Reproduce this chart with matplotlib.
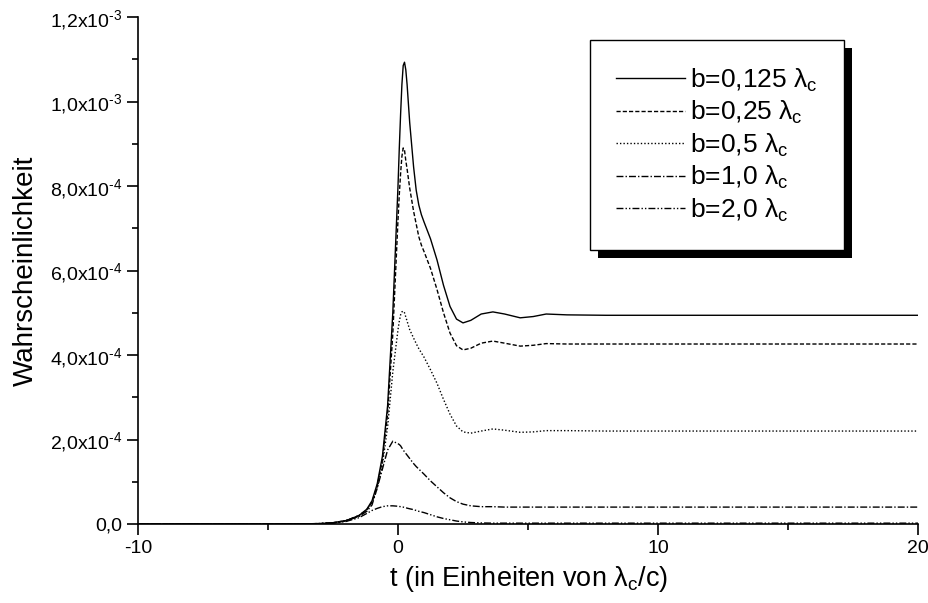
import matplotlib
matplotlib.use('Agg')
import matplotlib.pyplot as plt
from matplotlib.patches import Rectangle
from matplotlib.transforms import IdentityTransform

plt.rcParams['font.family'] = 'Liberation Sans'
plt.rcParams['mathtext.fontset'] = 'custom'
plt.rcParams['mathtext.rm'] = 'Liberation Sans'
plt.rcParams['mathtext.it'] = 'Liberation Sans'
plt.rcParams['mathtext.bf'] = 'Liberation Sans:bold'

# time axis (units of lambda_c / c)
t = [-10, -4, -3, -2.5, -2, -1.5, -1.2, -1, -0.8, -0.6, -0.4, -0.2, 0, 0.05, 0.1, 0.15,
     0.2, 0.25, 0.3, 0.35, 0.45, 0.6, 0.7, 0.8, 0.9, 1.0, 1.25, 1.5, 1.75, 2.0, 2.25, 2.5, 2.8,
     3.2, 3.65, 4.1, 4.7, 5.2, 5.7, 6.5, 8, 10, 15, 20]

# probabilities in units of 1e-4
p_0125 = [0, 0, 0.01, 0.03, 0.08, 0.2, 0.35, 0.55, 0.95, 1.6, 2.8, 5.0, 8.0, 8.9, 9.7, 10.4,
          10.85, 10.93, 10.75, 10.4, 9.5, 8.45, 7.9, 7.55, 7.32, 7.15, 6.75, 6.25, 5.65, 5.15,
          4.85, 4.76, 4.82, 4.97, 5.02, 4.97, 4.88, 4.91, 4.97, 4.95, 4.94, 4.94, 4.94, 4.94]
p_025 = [0, 0, 0.01, 0.03, 0.08, 0.2, 0.34, 0.52, 0.9, 1.5, 2.6, 4.5, 7.2, 7.8, 8.3, 8.7,
         8.9, 8.85, 8.6, 8.4, 7.95, 7.4, 7.1, 6.8, 6.6, 6.45, 6.05, 5.55, 5.0, 4.52,
         4.22, 4.12, 4.16, 4.28, 4.33, 4.28, 4.21, 4.23, 4.27, 4.26, 4.26, 4.26, 4.26, 4.26]
p_05 = [0, 0, 0.01, 0.03, 0.08, 0.2, 0.33, 0.5, 0.85, 1.4, 2.3, 3.6, 4.6, 4.8, 4.95, 5.02,
        5.04, 5.0, 4.9, 4.8, 4.6, 4.4, 4.27, 4.15, 4.05, 3.95, 3.65, 3.33, 2.95, 2.6,
        2.32, 2.18, 2.15, 2.2, 2.25, 2.22, 2.17, 2.18, 2.21, 2.21, 2.2, 2.2, 2.2, 2.2]
p_10 = [0, 0, 0.01, 0.03, 0.07, 0.18, 0.3, 0.45, 0.85, 1.3, 1.75, 1.96, 1.9, 1.88, 1.85, 1.8,
        1.75, 1.71, 1.67, 1.63, 1.55, 1.43, 1.36, 1.3, 1.24, 1.18, 1.02, 0.88, 0.74, 0.62,
        0.53, 0.47, 0.43, 0.41, 0.41, 0.4, 0.4, 0.4, 0.4, 0.4, 0.4, 0.4, 0.4, 0.4]
p_20 = [0, 0, 0.005, 0.02, 0.06, 0.15, 0.25, 0.32, 0.37, 0.41, 0.43, 0.43, 0.42, 0.415, 0.41, 0.405,
        0.40, 0.39, 0.385, 0.375, 0.36, 0.34, 0.32, 0.30, 0.285, 0.27, 0.22, 0.17, 0.13, 0.10,
        0.07, 0.05, 0.035, 0.025, 0.02, 0.02, 0.02, 0.02, 0.02, 0.02, 0.02, 0.02, 0.02, 0.02]

labels = [r'b=0,125 $\lambda_c$', r'b=0,25 $\lambda_c$', r'b=0,5 $\lambda_c$',
          r'b=1,0 $\lambda_c$', r'b=2,0 $\lambda_c$']

y_ticks = [0, 2e-4, 4e-4, 6e-4, 8e-4, 1e-3, 1.2e-3]
y_tick_labels = ['0,0', '2,0x10$^{\u20104}$', '4,0x10$^{\u20104}$', '6,0x10$^{\u20104}$',
                 '8,0x10$^{\u20104}$', '1,0x10$^{\u20103}$', '1,2x10$^{\u20103}$']
x_ticks = [-10, 0, 10, 20]

fig = plt.figure(figsize=(9.29, 6.03), dpi=100)
ax = fig.add_axes([138 / 929, 1 - 524 / 603, 780 / 929, 507 / 603])

styles = ['-', (0, (3, 1.5)), (0, (1, 1.5)), (0, (5, 1.5, 1, 1.5)), (0, (5, 1.5, 1, 1.5, 1, 1.5))]
for vals, lab, ls in zip([p_0125, p_025, p_05, p_10, p_20], labels, styles):
    ax.plot(t, [v * 1e-4 for v in vals], color='black', linestyle=ls, linewidth=1.0, label=lab)

ax.set_xlim(-10, 20)
ax.set_ylim(0, 1.2e-3)
ax.set_xticks(x_ticks)
ax.set_xticklabels([str(x) for x in x_ticks])
ax.set_xticks([-5, 5, 15], minor=True)
ax.set_yticks(y_ticks)
ax.set_yticklabels(y_tick_labels)
ax.set_yticks([1e-4, 3e-4, 5e-4, 7e-4, 9e-4, 1.1e-3], minor=True)
ax.tick_params(which='major', direction='out', length=8, width=1.2, labelsize=14)
ax.tick_params(which='minor', direction='out', length=4, width=1.2)
ax.spines['top'].set_visible(False)
ax.spines['right'].set_visible(False)
ax.spines['left'].set_linewidth(1.2)
ax.spines['bottom'].set_linewidth(1.2)

ax.set_xlabel(r't (in Einheiten von $\lambda_c$/c)', fontsize=19.5, labelpad=5)
ax.set_ylabel('Wahrscheinlichkeit', fontsize=20, labelpad=8)

leg = ax.legend(loc='upper left', bbox_to_anchor=((590 - 138) / 780, (524 - 40) / 507),
                borderaxespad=0, fontsize=19, handlelength=2.6, handletextpad=0.2,
                labelspacing=0.2, borderpad=1.0, fancybox=False, framealpha=1,
                edgecolor='black')
leg.get_frame().set_linewidth(1.0)

# heavy black drop shadow behind the legend box
fig.canvas.draw()
bb = leg.get_frame().get_window_extent()
shadow = Rectangle((bb.x0 + 8, bb.y0 - 8), bb.width, bb.height, transform=IdentityTransform(),
                   facecolor='black', edgecolor='none', zorder=4.5, clip_on=False)
ax.add_artist(shadow)

fig.savefig('out.png', dpi=100)
